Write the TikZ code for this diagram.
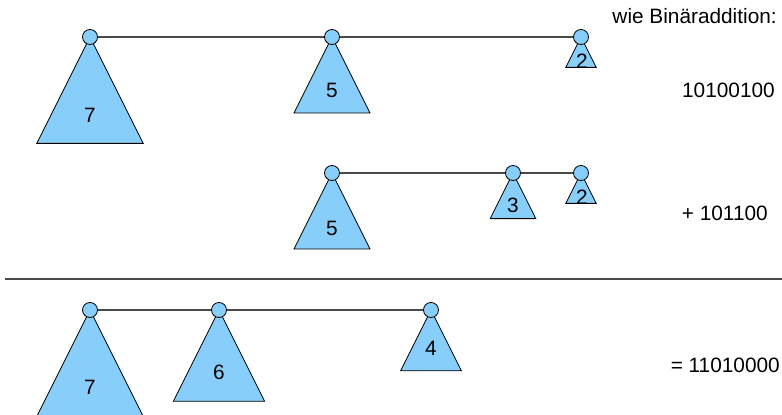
\documentclass[tikz,border=0pt]{standalone}
\usepackage{fontspec}
\setmainfont{Liberation Sans}
\usepackage{tikz}
\usetikzlibrary{positioning, calc}
\definecolor{heapBlue}{HTML}{87CEFA}
\definecolor{heapGray}{HTML}{4A4A4A}

\begin{document}
\begin{tikzpicture}[
  every node/.style={font=\fontsize{14.8}{17}\selectfont},
  root/.style={
    circle, minimum size=0.375cm, inner sep=0pt,
    draw=black, line width=0.6pt, fill=heapBlue
  },
  tree/.style={
    draw=black, line width=0.6pt, fill=heapBlue, line join=miter
  },
  rank/.style={inner sep=0pt},
  link/.style={draw=heapGray, line width=0.8pt},
  sum/.style={anchor=east, inner sep=0pt},
]
\useasboundingbox (0,0) rectangle (19.55,10.375);

% === FIRST HEAP ===
\draw[tree] (2.25,9.45) -- ++(-1.33,-2.66) -- ++(2.66,0) -- cycle;
\draw[tree] (8.3,9.45) -- ++(-0.95,-1.9) -- ++(1.9,0) -- cycle;
\draw[tree] (14.525,9.45) -- ++(-0.38,-0.76) -- ++(0.76,0) -- cycle;
\node[rank] (a7-r) at (2.25,7.5) {7};
\node[rank] (a5-r) at (8.3,8.125) {5};
\node[rank] (a2-r) at (14.55,8.85) {2};
\node[root] (a7) at (2.25,9.45) {};
\node[root] (a5) at (8.3,9.45) {};
\node[root] (a2) at (14.525,9.45) {};
\draw[link] (a7) -- (a5);
\draw[link] (a5) -- (a2);

% === SECOND HEAP ===
\draw[tree] (8.3,6.05) -- ++(-0.95,-1.9) -- ++(1.9,0) -- cycle;
\draw[tree] (12.825,6.05) -- ++(-0.57,-1.14) -- ++(1.14,0) -- cycle;
\draw[tree] (14.525,6.05) -- ++(-0.38,-0.76) -- ++(0.76,0) -- cycle;
\node[rank] (b5-r) at (8.3,4.675) {5};
\node[rank] (b3-r) at (12.825,5.25) {3};
\node[rank] (b2-r) at (14.55,5.45) {2};
\node[root] (b5) at (8.3,6.05) {};
\node[root] (b3) at (12.825,6.05) {};
\node[root] (b2) at (14.525,6.05) {};
\draw[link] (b5) -- (b3);
\draw[link] (b3) -- (b2);

% === SEPARATOR ===
\coordinate (sep-l) at (0.125,3.4);
\coordinate (sep-r) at (19.55,3.4);
\draw[link] (sep-l) -- (sep-r);

% === RESULT HEAP ===
\draw[tree] (2.25,2.625) -- ++(-1.33,-2.66) -- ++(2.66,0) -- cycle;
\draw[tree] (5.475,2.625) -- ++(-1.14,-2.28) -- ++(2.28,0) -- cycle;
\draw[tree] (10.775,2.625) -- ++(-0.76,-1.52) -- ++(1.52,0) -- cycle;
\node[rank] (c7-r) at (2.25,0.7) {7};
\node[rank] (c6-r) at (5.475,1.075) {6};
\node[rank] (c4-r) at (10.775,1.675) {4};
\node[root] (c7) at (2.25,2.625) {};
\node[root] (c6) at (5.475,2.625) {};
\node[root] (c4) at (10.775,2.625) {};
\draw[link] (c7) -- (c6);
\draw[link] (c6) -- (c4);

% === BINARY SUM ===
\node[sum] (title) at (19.425,9.975) {wie Binäraddition:};
\node[sum] (num-a) at (19.375,8.125) {10100100};
\node[sum] (num-b) at (19.2,5.05) {+ 101100};
\node[sum] (num-c) at (19.5,1.25) {= 11010000};

\end{tikzpicture}
\end{document}
